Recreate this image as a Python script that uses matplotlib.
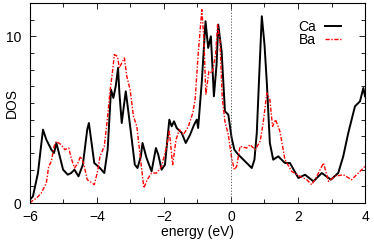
import matplotlib
matplotlib.use("Agg")
import matplotlib.pyplot as plt
from matplotlib.ticker import MultipleLocator

plt.rcParams['font.family'] = ['Liberation Sans', 'DejaVu Sans']

# energy (eV) / DOS
ca_e = [-6.0, -5.91, -5.76, -5.68, -5.61, -5.51, -5.36, -5.28, -5.21, -5.11, -5.01, -4.87,
        -4.77, -4.67, -4.55, -4.42, -4.29, -4.24, -4.16, -4.08, -3.91, -3.78, -3.68, -3.58,
        -3.51, -3.44, -3.37, -3.33, -3.26, -3.21, -3.14, -3.07, -2.96, -2.87, -2.79, -2.69,
        -2.64, -2.52, -2.37, -2.24, -2.17, -2.07, -1.97, -1.84, -1.77, -1.70, -1.62, -1.47,
        -1.35, -1.22, -1.10, -1.02, -0.98, -0.87, -0.76, -0.68, -0.60, -0.51, -0.43, -0.38,
        -0.28, -0.18, -0.08, 0.02, 0.10, 0.22, 0.42, 0.62, 0.70, 0.77, 0.85, 0.92, 1.0,
        1.07, 1.16, 1.26, 1.41, 1.61, 1.76, 2.01, 2.21, 2.46, 2.71, 2.98, 3.2, 3.35, 3.5,
        3.7, 3.85, 3.95, 4.0]
ca_dos = [0.2, 0.4, 1.8, 3.2, 4.4, 3.8, 3.2, 3.0, 3.6, 2.8, 2.0, 1.7,
          1.8, 2.0, 1.6, 2.3, 4.4, 4.8, 3.6, 2.4, 2.1, 1.8, 3.2, 6.8,
          6.3, 7.0, 8.1, 6.6, 4.8, 5.6, 6.7, 5.6, 3.8, 2.3, 2.1, 2.8,
          3.6, 2.7, 1.9, 3.3, 2.9, 2.0, 2.3, 5.0, 4.6, 4.9, 4.5, 4.2,
          3.6, 4.1, 4.7, 5.0, 4.5, 7.3, 10.9, 9.3, 10.0, 6.4, 8.3, 10.7,
          9.1, 5.5, 5.3, 3.9, 3.2, 2.9, 2.5, 2.1, 2.6, 4.2, 8.0, 11.2, 9.5,
          7.2, 3.6, 2.6, 2.8, 2.4, 2.4, 1.5, 1.7, 1.3, 1.8, 1.4, 1.8, 2.8, 4.2,
          5.8, 6.1, 6.9, 6.4]

ba_e = [-6.0, -5.96, -5.8, -5.66, -5.51, -5.44, -5.36, -5.28, -5.21, -5.07, -4.96, -4.84,
        -4.77, -4.67, -4.57, -4.49, -4.40, -4.29, -4.21, -4.08, -3.98, -3.91, -3.78, -3.68,
        -3.61, -3.54, -3.48, -3.39, -3.33, -3.26, -3.18, -3.11, -3.01, -2.91, -2.81, -2.72,
        -2.60, -2.50, -2.37, -2.22, -2.07, -1.92, -1.84, -1.74, -1.64, -1.54, -1.42, -1.27,
        -1.14, -1.07, -0.98, -0.87, -0.81, -0.75, -0.66, -0.56, -0.46, -0.40, -0.33, -0.26,
        -0.18, -0.08, 0.02, 0.10, 0.17, 0.27, 0.47, 0.57, 0.72, 0.87, 0.96, 1.07, 1.16,
        1.24, 1.33, 1.46, 1.61, 1.81, 2.06, 2.26, 2.41, 2.56, 2.76, 2.91, 3.1, 3.35, 3.6,
        3.8, 4.0]
ba_dos = [0.0, 0.08, 0.3, 0.6, 1.2, 2.2, 2.5, 3.4, 3.7, 3.5, 3.2, 3.3,
          2.7, 2.1, 2.4, 2.8, 2.4, 1.4, 1.3, 1.1, 1.9, 2.8, 3.4, 5.2,
          6.7, 7.8, 8.9, 8.8, 8.1, 8.4, 8.7, 7.6, 6.8, 5.2, 4.6, 3.0,
          0.9, 1.4, 1.8, 1.8, 2.2, 3.4, 4.3, 2.3, 3.8, 4.4, 4.1, 4.6,
          5.4, 6.2, 8.9, 11.6, 9.9, 6.5, 7.9, 7.8, 8.9, 10.7, 9.7, 6.3,
          4.9, 4.1, 2.7, 2.0, 2.2, 3.4, 3.3, 3.5, 3.2, 3.7, 4.8, 6.6, 6.2,
          4.6, 5.0, 4.3, 2.6, 1.9, 1.6, 1.4, 1.1, 1.6, 2.4, 1.3, 1.6, 1.7, 1.4,
          1.8, 2.2]

fig = plt.figure(figsize=(3.74, 2.42), dpi=100)
ax = fig.add_axes([0.080, 0.161, 0.896, 0.827])

ax.plot(ca_e, ca_dos, color='black', lw=1.4, label='Ca')
ax.plot(ba_e, ba_dos, color='red', lw=1.0, ls=(0, (3, 1.2, 1, 1.2)), label='Ba')
ax.axvline(0, color='#444444', lw=0.6, ls=(0, (1.5, 2)))

ax.set_xlim(-6, 4)
ax.set_ylim(0, 12)
ax.xaxis.set_major_locator(MultipleLocator(2))
ax.xaxis.set_minor_locator(MultipleLocator(1))
ax.yaxis.set_major_locator(MultipleLocator(10))
ax.yaxis.set_minor_locator(MultipleLocator(1))
ax.tick_params(which='both', direction='in', top=True, right=True, labelsize=10)
ax.tick_params(axis='x', pad=5)
ax.tick_params(axis='y', pad=6)
ax.tick_params(which='major', length=4, width=0.6)
ax.tick_params(which='minor', length=3, width=0.6)
for s in ax.spines.values():
    s.set_linewidth(0.8)

ax.set_xlabel('energy (eV)', fontsize=10, labelpad=1)
ax.set_ylabel('DOS', fontsize=10)
ax.yaxis.set_label_coords(-0.033, 0.5)

ax.legend(loc='upper right', bbox_to_anchor=(0.95, 0.95), frameon=False, markerfirst=False,
          fontsize=10, handlelength=1.2, handletextpad=0.6, labelspacing=-0.05, borderpad=0)

fig.savefig('out.png', dpi=100)
